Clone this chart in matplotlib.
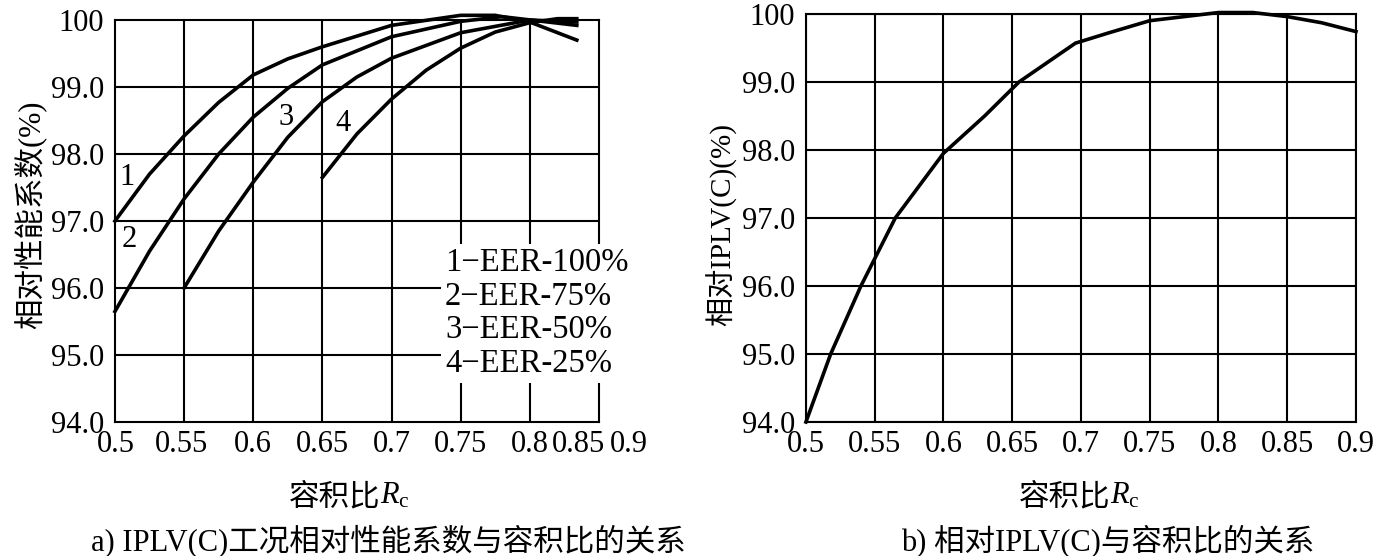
import matplotlib
matplotlib.use("Agg")
import matplotlib.pyplot as plt

plt.rcParams['font.family'] = ['Liberation Serif', 'Noto Sans CJK SC']
plt.rcParams['mathtext.fontset'] = 'custom'
plt.rcParams['mathtext.rm'] = 'Liberation Serif'
plt.rcParams['mathtext.it'] = 'Liberation Serif:italic'

# panel a) relative COP vs capacity ratio, four load points
x1 = [0.5, 0.525, 0.55, 0.575, 0.6, 0.625, 0.65, 0.7, 0.75, 0.775, 0.8, 0.834]
y1 = [97.0, 97.7, 98.27, 98.77, 99.18, 99.42, 99.6, 99.92, 100.07, 100.07, 99.97, 99.7]
x2 = [0.5, 0.525, 0.55, 0.575, 0.6, 0.625, 0.65, 0.7, 0.75, 0.78, 0.834]
y2 = [95.65, 96.55, 97.33, 98.0, 98.55, 98.98, 99.33, 99.75, 99.98, 100.05, 99.92]
x3 = [0.55, 0.575, 0.6, 0.625, 0.65, 0.675, 0.7, 0.75, 0.8, 0.834]
y3 = [96.0, 96.85, 97.58, 98.25, 98.78, 99.15, 99.43, 99.81, 100.0, 99.97]
x4 = [0.65, 0.675, 0.7, 0.725, 0.75, 0.775, 0.8, 0.82, 0.834]
y4 = [97.65, 98.3, 98.82, 99.25, 99.58, 99.82, 99.96, 100.02, 100.02]
legend_lines = ['1\u2212EER-100%', '2\u2212EER-75%', '3\u2212EER-50%', '4\u2212EER-25%']

# panel b) relative IPLV(C)
xb = [0.5, 0.518, 0.54, 0.565, 0.6, 0.63, 0.655, 0.696, 0.72, 0.75, 0.8, 0.825, 0.85, 0.875, 0.9]
yb = [94.0, 95.0, 96.0, 97.0, 97.95, 98.5, 99.0, 99.57, 99.72, 99.9, 100.02, 100.02, 99.96, 99.87, 99.74]

yticks = [94, 95, 96, 97, 98, 99, 100]
ylabels = ['94.0', '95.0', '96.0', '97.0', '98.0', '99.0', '100']
xlabels = ['0.5', '0.55', '0.6', '0.65', '0.7', '0.75', '0.8', '0.85', '0.9']

fig = plt.figure(figsize=(13.8, 5.56), dpi=100)
axa = fig.add_axes([0.0833, 0.241, 0.3507, 0.723])
axb = fig.add_axes([0.584, 0.241, 0.3986, 0.734])

fs = 22
lw_grid = 1.5

# --- panel a ---
for gx in [0.55, 0.6, 0.65, 0.7, 0.75, 0.8]:
    axa.axvline(gx, color='black', lw=lw_grid, zorder=1)
for gy in yticks[1:-1]:
    axa.axhline(gy, color='black', lw=lw_grid, zorder=1)
for xs, ys in [(x1, y1), (x2, y2), (x3, y3), (x4, y4)]:
    axa.plot(xs, ys, color='black', lw=2.6, clip_on=False, zorder=3)
axa.set_xticks([0.501, 0.548, 0.6, 0.65, 0.7, 0.75, 0.8])
axa.set_xticklabels(xlabels[:7], fontsize=fs)
axa.set_yticks(yticks)
axa.set_yticklabels(ylabels, fontsize=fs)
axa.set_xlim(0.5, 0.85)
axa.set_ylim(94, 100)
axa.tick_params(axis='x', length=0, pad=6)
axa.tick_params(axis='y', length=0, pad=8)
for s in axa.spines.values():
    s.set_linewidth(lw_grid)
# the last two labels of the original sit off the grid
tr = axa.get_xaxis_transform()
for xpos, lab in [(0.8355, xlabels[7]), (0.8715, xlabels[8])]:
    axa.text(xpos, -0.021, lab, transform=tr, fontsize=fs, ha='center', va='top',
             clip_on=False)

axa.text(0.509, 97.65, '1', fontsize=fs, ha='center', va='center')
axa.text(0.51, 96.72, '2', fontsize=fs, ha='center', va='center')
axa.text(0.624, 98.55, '3', fontsize=fs, ha='center', va='center')
axa.text(0.665, 98.45, '4', fontsize=fs, ha='center', va='center')

for i, t in enumerate(legend_lines):
    axa.text(0.7386, 96.37 - i * 0.5, t, fontsize=23.5, ha='left', va='center',
             zorder=4, clip_on=False,
             bbox=dict(facecolor='white', edgecolor='none', pad=2.5))

# --- panel b ---
axb.set_xticks([0.5, 0.55, 0.6, 0.65, 0.7, 0.75, 0.8, 0.85, 0.9])
axb.set_xticklabels(xlabels, fontsize=fs)
axb.set_yticks(yticks)
axb.set_yticklabels(ylabels, fontsize=fs)
axb.set_xlim(0.5, 0.9)
axb.set_ylim(94, 100)
axb.grid(True, color='black', lw=lw_grid)
axb.set_axisbelow(True)
axb.plot(xb, yb, color='black', lw=2.6, clip_on=False, zorder=3)
axb.tick_params(axis='x', length=0, pad=6)
axb.tick_params(axis='y', length=0, pad=8)
for s in axb.spines.values():
    s.set_linewidth(lw_grid)

# labels and captions
fig.text(0.022, 1 - 215 / 556, '相对性能系数(%)', rotation=90, fontsize=fs,
         ha='center', va='center')
fig.text(722 / 1380, 1 - 225 / 556, '相对IPLV(C)(%)', rotation=90, fontsize=21,
         ha='center', va='center')
for cx in [362, 1092]:
    fig.text((cx + 18) / 1380, 1 - 498 / 556, '容积比', fontsize=fs,
             ha='right', va='center')
    fig.text((cx + 18) / 1380, 1 - 496 / 556, '$R_\\mathrm{c}$', fontsize=fs,
             ha='left', va='center')
fig.text(388 / 1380, 1 - 541 / 556, 'a) IPLV(C)工况相对性能系数与容积比的关系',
         fontsize=fs, ha='center', va='center')
fig.text(1108 / 1380, 1 - 541 / 556, 'b) 相对IPLV(C)与容积比的关系',
         fontsize=fs, ha='center', va='center')

fig.savefig('out.png', dpi=100)
